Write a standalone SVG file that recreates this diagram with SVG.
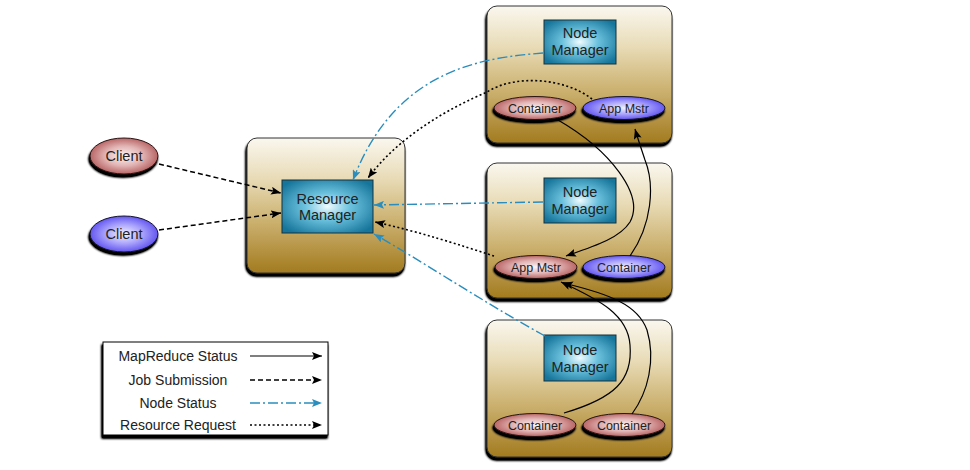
<svg xmlns="http://www.w3.org/2000/svg" width="970" height="470" viewBox="0 0 970 470">
<defs>
  <linearGradient id="gold" x1="0" y1="0" x2="0" y2="1">
    <stop offset="0" stop-color="#faf7ef"/>
    <stop offset="0.3" stop-color="#e8dbb6"/>
    <stop offset="0.6" stop-color="#cdb373"/>
    <stop offset="1" stop-color="#a37b1f"/>
  </linearGradient>
  <radialGradient id="blueBox" cx="0.5" cy="0.5" r="0.62">
    <stop offset="0" stop-color="#f0fbfe"/>
    <stop offset="0.4" stop-color="#6cc2de"/>
    <stop offset="1" stop-color="#16759b"/>
  </radialGradient>
  <radialGradient id="redEl" cx="0.5" cy="0.5" r="0.55">
    <stop offset="0" stop-color="#fdf4f4"/>
    <stop offset="0.5" stop-color="#e2b4b4"/>
    <stop offset="1" stop-color="#b05555"/>
  </radialGradient>
  <radialGradient id="blueEl" cx="0.5" cy="0.5" r="0.55">
    <stop offset="0" stop-color="#f2f2ff"/>
    <stop offset="0.5" stop-color="#a9a2fb"/>
    <stop offset="1" stop-color="#5446ee"/>
  </radialGradient>
  <filter id="sh" x="-10%" y="-10%" width="120%" height="130%">
    <feGaussianBlur in="SourceAlpha" stdDeviation="0.8"/>
    <feOffset dx="-1" dy="3" result="o"/>
    <feComponentTransfer><feFuncA type="linear" slope="1.6"/></feComponentTransfer>
    <feMerge><feMergeNode/><feMergeNode in="SourceGraphic"/></feMerge>
  </filter>
  <marker id="ab" viewBox="0 0 10 8" refX="10" refY="4" markerWidth="10" markerHeight="8" markerUnits="userSpaceOnUse" orient="auto">
    <path d="M0,0 L10,4 L0,8 L2,4 z" fill="#000"/>
  </marker>
  <marker id="au" viewBox="0 0 10 8" refX="10" refY="4" markerWidth="10" markerHeight="8" markerUnits="userSpaceOnUse" orient="auto">
    <path d="M0,0 L10,4 L0,8 L2,4 z" fill="#2a8dbd"/>
  </marker>
  <style>
    .host { fill: url(#gold); stroke: #333; stroke-width: 1; filter: url(#sh); }
    .mgr { fill: url(#blueBox); stroke: #17323d; stroke-width: 1; }
    .red { fill: url(#redEl); stroke: #2a1515; stroke-width: 1; filter: url(#sh); }
    .blu { fill: url(#blueEl); stroke: #15152a; stroke-width: 1; filter: url(#sh); }
    text { font-family: "Liberation Sans", Arial, Helvetica, sans-serif; fill: #222; text-anchor: middle; }
    .big { font-size: 14.5px; }
    .sm { font-size: 12.5px; }
    .leg { font-size: 14px; }
    .mr { fill: none; stroke: #000; stroke-width: 1.2; marker-end: url(#ab); }
    .job { fill: none; stroke: #000; stroke-width: 1.5; stroke-dasharray: 5 3; marker-end: url(#ab); }
    .ns { fill: none; stroke: #2a8dbd; stroke-width: 1.4; stroke-dasharray: 10 3 2 3; marker-end: url(#au); }
    .rr { fill: none; stroke: #000; stroke-width: 1.6; stroke-dasharray: 2 2.5; marker-end: url(#ab); }
  </style>
</defs>
<rect width="970" height="470" fill="#fff"/>

<g id="client1">
  <ellipse class="red" cx="124" cy="156" rx="34" ry="18"/>
  <text class="big" x="124" y="161">Client</text>
</g>
<g id="client2">
  <ellipse class="blu" cx="124" cy="234" rx="34" ry="18"/>
  <text class="big" x="124" y="239">Client</text>
</g>

<g id="rm-host">
  <rect class="host" x="247" y="138" width="158" height="135" rx="10"/>
</g>
<g id="resource-manager">
  <rect class="mgr" x="282" y="180" width="91" height="53"/>
  <text class="big" x="327.5" y="204">Resource</text>
  <text class="big" x="327.5" y="220">Manager</text>
</g>

<g id="host1">
  <rect class="host" x="487" y="6" width="185" height="137" rx="10"/>
</g>
<g id="nm1">
  <rect class="mgr" x="544" y="20" width="72" height="44"/>
  <text class="big" x="580" y="38">Node</text>
  <text class="big" x="580" y="55">Manager</text>
</g>
<g id="container1a">
  <ellipse class="red" cx="535" cy="108" rx="41" ry="11.5"/>
  <text class="sm" x="535" y="112.5">Container</text>
</g>
<g id="appmstr1">
  <ellipse class="blu" cx="624" cy="108" rx="41" ry="11.5"/>
  <text class="sm" x="624" y="112.5">App Mstr</text>
</g>

<g id="host2">
  <rect class="host" x="487" y="163" width="185" height="135" rx="10"/>
</g>
<g id="nm2">
  <rect class="mgr" x="544" y="178" width="72" height="45"/>
  <text class="big" x="580" y="197">Node</text>
  <text class="big" x="580" y="214">Manager</text>
</g>
<g id="appmstr2">
  <ellipse class="red" cx="536" cy="267" rx="41" ry="11.5"/>
  <text class="sm" x="536" y="271.5">App Mstr</text>
</g>
<g id="container2">
  <ellipse class="blu" cx="624" cy="267" rx="41" ry="11.5"/>
  <text class="sm" x="624" y="271.5">Container</text>
</g>

<g id="host3">
  <rect class="host" x="487" y="320" width="185" height="137" rx="10"/>
</g>
<g id="nm3">
  <rect class="mgr" x="544" y="335" width="72" height="46"/>
  <text class="big" x="580" y="355">Node</text>
  <text class="big" x="580" y="372">Manager</text>
</g>
<g id="container3a">
  <ellipse class="red" cx="535" cy="425" rx="41" ry="11.5"/>
  <text class="sm" x="535" y="429.5">Container</text>
</g>
<g id="container3b">
  <ellipse class="red" cx="624" cy="425" rx="41" ry="11.5"/>
  <text class="sm" x="624" y="429.5">Container</text>
</g>

<g id="connectors">
  <path class="job" d="M159,164 L281,193"/>
  <path class="job" d="M159,230 L281,213"/>
  <path class="ns" d="M543,53 C480,58 395,70 353,180"/>
  <path class="rr" d="M592,99 C565,78 515,74 487,92 C450,108 400,135 368,178"/>
  <path class="ns" d="M543,202 L374,205"/>
  <path class="rr" d="M494,256 C460,245 420,232 375,222"/>
  <path class="ns" d="M545,336 C480,300 420,260 374,234"/>
  <path class="mr" d="M558,120 C610,150 645,195 630,222 C620,238 595,246 566,256"/>
  <path class="mr" d="M630,256 C652,225 655,185 645,160 C640,145 637,136 635,129"/>
  <path class="mr" d="M564,413 C615,398 633,380 630,345 C628,315 600,300 561,282"/>
  <path class="mr" d="M632,414 C648,392 656,360 647,330 C638,305 610,294 563,283"/>
</g>

<g id="legend">
  <rect x="103" y="342" width="225" height="93" fill="#fff" stroke="#000" stroke-width="1" filter="url(#sh)"/>
  <text class="leg" x="178" y="361">MapReduce Status</text>
  <text class="leg" x="178" y="385">Job Submission</text>
  <text class="leg" x="178" y="408">Node Status</text>
  <text class="leg" x="178" y="430">Resource Request</text>
  <path class="mr" d="M250,356 L322,356"/>
  <path class="job" d="M250,380 L322,380"/>
  <path class="ns" d="M250,403 L322,403"/>
  <path class="rr" d="M250,425 L322,425"/>
</g>
</svg>
